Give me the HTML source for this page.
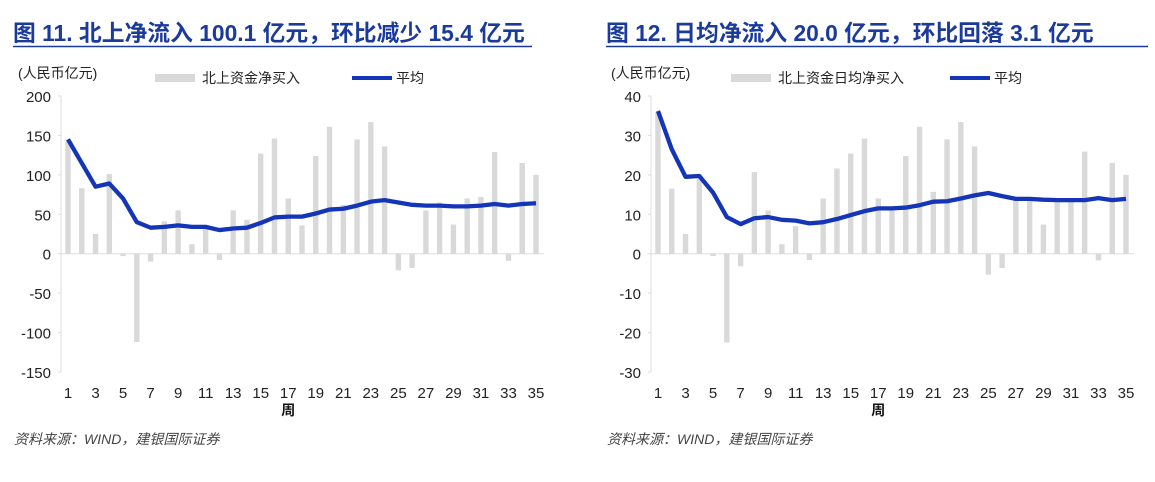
<!DOCTYPE html>
<html><head><meta charset="utf-8"><style>
body{margin:0;background:#fff;width:1155px;height:477px;overflow:hidden}
svg text{font-family:"Liberation Sans","Noto Sans CJK SC",sans-serif}
</style></head><body>
<svg id="s" width="1155" height="477" xmlns="http://www.w3.org/2000/svg"></svg>
<script>
const barsL=[145,83,25,101,-3,-112,-10,41,55,12,33,-8,55,43,127,146,70,36,124,161,62,145,167,136,-21,-18,55,65,37,70,72,129,-9,115,100];
const lineL=[145,115,85,89,70,40,33,34,36,34,34,30,32,33,39,46,47,47,51,56,57,61,66,68,65,62,61,61,60,60,61,63,61,63,64];
const barsR=[36,16.5,5,19,-0.6,-22.5,-3.2,20.7,11,2.4,7,-1.6,14,21.6,25.4,29.2,14,11,24.8,32.2,15.7,29,33.4,27.2,-5.3,-3.6,14,14,7.4,14,14,25.9,-1.7,23,20];
const lineR=[36.2,26.5,19.5,19.7,15.5,9.3,7.5,9,9.3,8.6,8.4,7.7,8,8.8,9.8,10.8,11.5,11.5,11.7,12.3,13.2,13.3,14,14.8,15.4,14.6,13.9,13.9,13.7,13.6,13.6,13.6,14.1,13.6,13.9,14.1];
let h='';
function chart(ox,x1,x35,yTop,yBot,vmax,vmin,step,bars,line,title,leg,boxX,lx,ulEnd){
  const y0=v=>yTop+(vmax-v)*(yBot-yTop)/(vmax-vmin);
  const sp=(x35-x1)/34;
  h+=`<text x="${ox+13}" y="41" font-size="22.8" font-weight="bold" fill="#1a3a9c">${title}</text>`;
  h+=`<line x1="${ox+13}" y1="46.5" x2="${ulEnd}" y2="46.5" stroke="#1a3a9c" stroke-width="1.5"/>`;
  h+=`<text x="${ox+18}" y="78" font-size="14" fill="#222">(人民币亿元)</text>`;
  h+=`<rect x="${boxX}" y="74" width="40" height="8" fill="#d9d9d9"/><text x="${boxX+47}" y="83" font-size="14" fill="#222">${leg}</text>`;
  h+=`<line x1="${lx}" y1="78" x2="${lx+40}" y2="78" stroke="#1535b8" stroke-width="4"/><text x="${lx+44}" y="83" font-size="14" fill="#222">平均</text>`;
  const ax=x1-7;
  h+=`<line x1="${ax}" y1="${yTop}" x2="${ax}" y2="${yBot}" stroke="#ddd"/>`;
  for(let v=vmax;v>=vmin;v-=step){h+=`<text x="${ax-10}" y="${y0(v)+6}" font-size="15" text-anchor="end" fill="#222">${v}</text><line x1="${ax-3}" y1="${y0(v)}" x2="${ax}" y2="${y0(v)}" stroke="#ddd"/>`;}
  h+=`<line x1="${ax}" y1="${y0(0)}" x2="${x35+8}" y2="${y0(0)}" stroke="#ddd"/>`;
  for(let i=0;i<35;i++){const x=x1+i*sp,v=bars[i];const a=y0(Math.max(v,0)),b=y0(Math.min(v,0));h+=`<rect x="${x-2.7}" y="${a}" width="5.4" height="${b-a}" fill="#d9d9d9"/>`;
    if(i%2==0)h+=`<text x="${x}" y="${yBot+26}" font-size="15" text-anchor="middle" fill="#222">${i+1}</text>`;}
  h+=`<polyline fill="none" stroke="#1535b8" stroke-width="4.3" stroke-linejoin="round" points="${line.slice(0,35).map((v,i)=>(x1+i*sp)+','+y0(v)).join(' ')}"/>`;
  h+=`<text x="${x1+16*sp}" y="${yBot+43}" font-size="14" font-weight="bold" text-anchor="middle" fill="#111">周</text>`;
  h+=`<text x="${ox+14}" y="444" font-size="14" font-style="italic" fill="#444">资料来源：WIND，建银国际证券</text>`;
}
chart(0,68,536,96,372,200,-150,50,barsL,lineL,"图 11. 北上净流入 100.1 亿元，环比减少 15.4 亿元","北上资金净买入",155,352,532);
chart(593,658,1126,96,372,40,-30,10,barsR,lineR,"图 12. 日均净流入 20.0 亿元，环比回落 3.1 亿元","北上资金日均净买入",731,950,1148);
document.getElementById('s').innerHTML=h;
</script>
</body></html>
